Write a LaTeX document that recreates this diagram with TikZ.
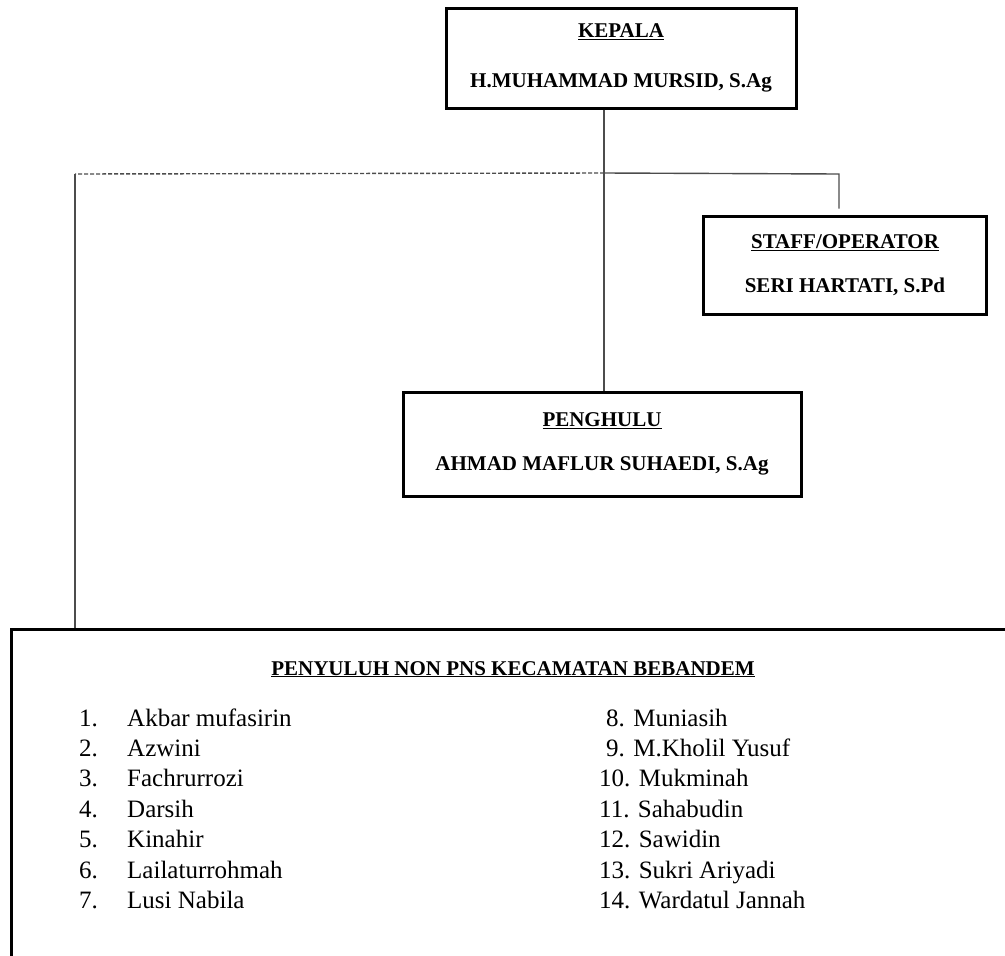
\documentclass[tikz,border=0pt]{standalone}
\usepackage{fontspec}
\setmainfont{Liberation Serif}
\usetikzlibrary{positioning}

\begin{document}
\begin{tikzpicture}[
    x=1pt, y=-1pt,
    box/.style={rectangle, draw, line width=3pt, align=center, inner sep=0pt, font=\fontsize{21}{25}\selectfont\bfseries},
    link/.style={draw=black!70, line width=1.4pt},
    dashlink/.style={link, dash pattern=on 4pt off 2pt},
    item/.style={anchor=base west, inner sep=0pt, font=\fontsize{25}{30}\selectfont}
]
\useasboundingbox (0,0) rectangle (1005,956);

\node[box, minimum width=350pt, minimum height=100pt] (kepala) at (621,58) {\underline{KEPALA}\\[25pt]H.MUHAMMAD MURSID, S.Ag};
\node[box, minimum width=283pt, minimum height=98pt] (staff) at (845,265) {\underline{STAFF/OPERATOR}\\[19pt]SERI HARTATI, S.Pd};
\node[box, minimum width=398pt, minimum height=104pt] (penghulu) at (602,444) {\underline{PENGHULU}\\[19pt]AHMAD MAFLUR SUHAEDI, S.Ag};

% kotak penyuluh, terpotong di kanan dan bawah
\node[draw, line width=3pt, anchor=north west, minimum width=1050pt, minimum height=400pt, inner sep=0pt] (penyuluh) at (10,628) {};
\node[anchor=base, inner sep=0pt, font=\fontsize{21}{25}\selectfont\bfseries] (judul) at (513,675) {\underline{PENYULUH NON PNS KECAMATAN BEBANDEM}};

\foreach \t [count=\k] in {Akbar mufasirin, Azwini, Fachrurrozi, Darsih, Kinahir, Lailaturrohmah, Lusi Nabila} {
  \node[item] (no\k) at (79,695.6+30.4*\k) {\k.};
  \node[item] (nama\k) at (127,695.6+30.4*\k) {\t};
}
\foreach \px/\n/\t [count=\k] in {606/8/Muniasih, 606/9/M.Kholil Yusuf, 599/10/Mukminah, 599/11/Sahabudin, 599/12/Sawidin, 599/13/Sukri Ariyadi, 599/14/Wardatul Jannah} {
  \node[item] (kanan\n) at (\px,695.6+30.4*\k) {\n. \t};
}

% garis
\coordinate (jn) at (604,173);
\coordinate (sj) at (839,174);
\coordinate (lj) at (75,174);
\coordinate (sb) at ([yshift=6pt]staff.north);

\draw[link] (kepala.south -| jn) -- (penghulu.north -| jn);
\draw[link] (jn) -- (sj) -- (sj |- sb);
\draw[dashlink] (jn) -- (lj);
\draw[link] (lj) -- (lj |- penyuluh.north);

\end{tikzpicture}
\end{document}
